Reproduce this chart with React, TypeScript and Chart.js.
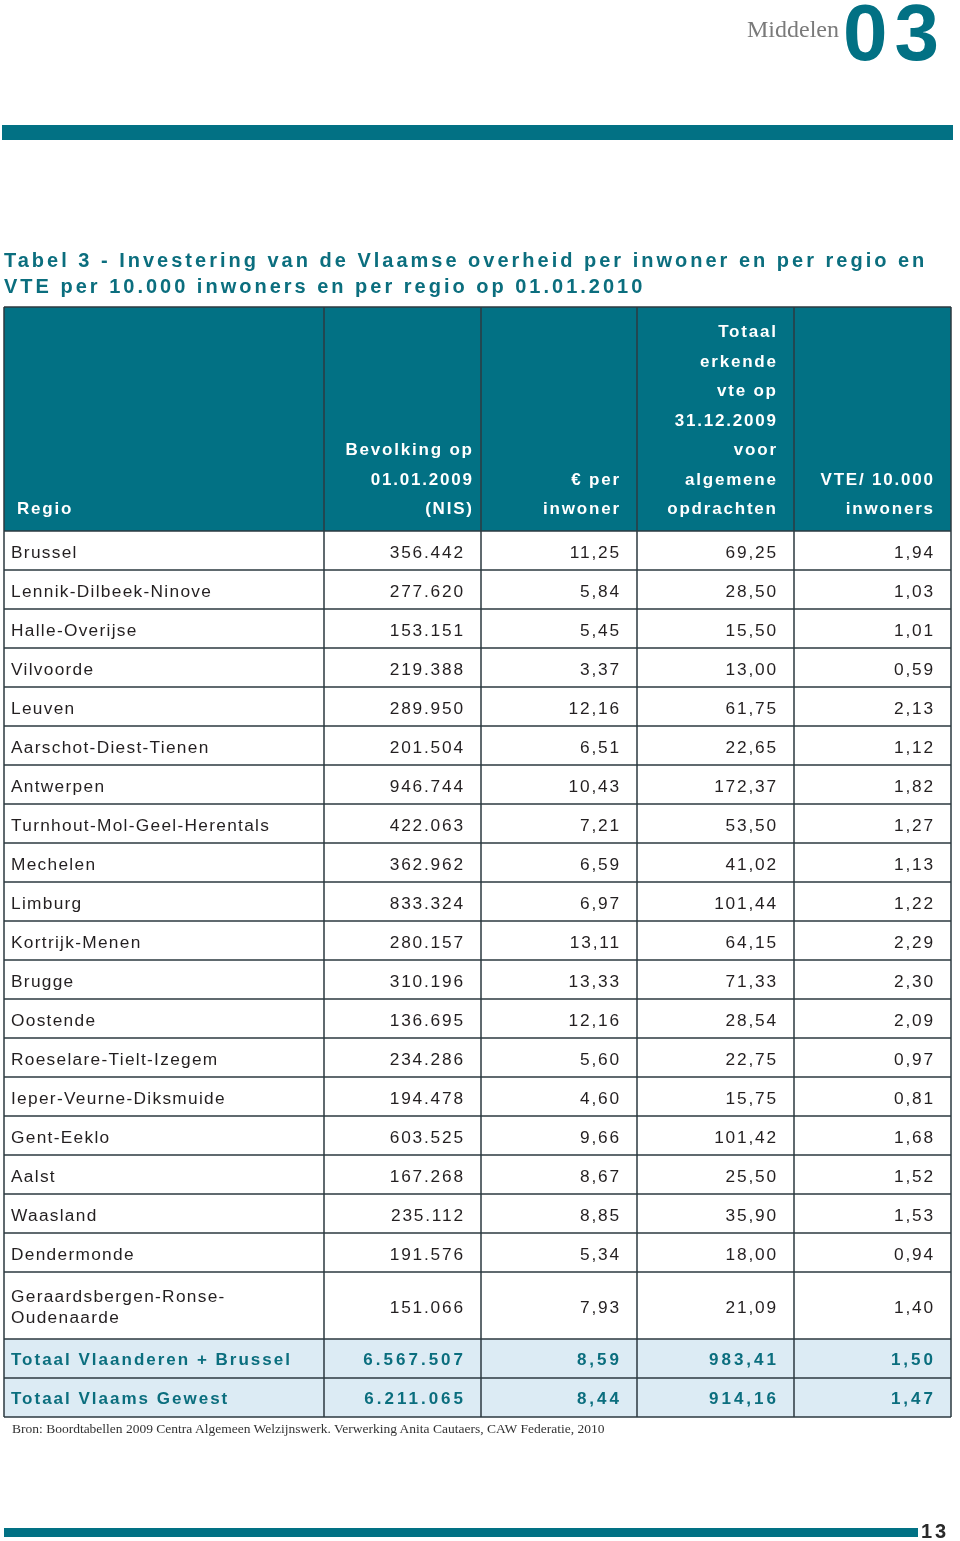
import React, { useEffect, useRef } from "react";
import { Chart, registerables } from "chart.js";

Chart.register(...registerables);

// ---------- data ----------
const regions = [
  "Brussel",
  "Lennik-Dilbeek-Ninove",
  "Halle-Overijse",
  "Vilvoorde",
  "Leuven",
  "Aarschot-Diest-Tienen",
  "Antwerpen",
  "Turnhout-Mol-Geel-Herentals",
  "Mechelen",
  "Limburg",
  "Kortrijk-Menen",
  "Brugge",
  "Oostende",
  "Roeselare-Tielt-Izegem",
  "Ieper-Veurne-Diksmuide",
  "Gent-Eeklo",
  "Aalst",
  "Waasland",
  "Dendermonde",
  "Geraardsbergen-Ronse-\nOudenaarde",
];
const population = [
  356442, 277620, 153151, 219388, 289950, 201504, 946744, 422063, 362962, 833324,
  280157, 310196, 136695, 234286, 194478, 603525, 167268, 235112, 191576, 151066,
];
const euroPerInhabitant = [
  11.25, 5.84, 5.45, 3.37, 12.16, 6.51, 10.43, 7.21, 6.59, 6.97,
  13.11, 13.33, 12.16, 5.6, 4.6, 9.66, 8.67, 8.85, 5.34, 7.93,
];
const vteTotal = [
  69.25, 28.5, 15.5, 13.0, 61.75, 22.65, 172.37, 53.5, 41.02, 101.44,
  64.15, 71.33, 28.54, 22.75, 15.75, 101.42, 25.5, 35.9, 18.0, 21.09,
];
const vtePer10000 = [
  1.94, 1.03, 1.01, 0.59, 2.13, 1.12, 1.82, 1.27, 1.13, 1.22,
  2.29, 2.3, 2.09, 0.97, 0.81, 1.68, 1.52, 1.53, 0.94, 1.4,
];
const totalLabels = ["Totaal Vlaanderen + Brussel", "Totaal Vlaams Gewest"];
const totalPopulation = [6567507, 6211065];
const totalEuro = [8.59, 8.44];
const totalVte = [983.41, 914.16];
const totalVtePer = [1.5, 1.47];
const headerLabels = [
  ["Regio"],
  ["Bevolking op", "01.01.2009", "(NIS)"],
  ["€ per", "inwoner"],
  ["Totaal", "erkende", "vte op", "31.12.2009", "voor", "algemene", "opdrachten"],
  ["VTE/ 10.000", "inwoners"],
];

// ---------- layout / style ----------
const TEAL = "#027184";
const TEXT_TEAL = "#0b6e7e";
const LIGHT = "#dcebf4";
const BORDER = "#2c3a40";
const BODY = "#231f20";
const COL_EDGES = [4, 324, 481, 637, 794, 951];
const TABLE_TOP = 307;
const HEADER_H = 224;
const ROW_H = 39;
const TALL_ROW_H = 67;
const FONT = "'Liberation Sans', Arial, sans-serif";

const fmtInt = (n: number) => String(n).replace(/\B(?=(\d{3})+(?!\d))/g, ".");
const fmtDec = (n: number) => n.toFixed(2).replace(".", ",");

const tablePlugin = {
  id: "tablePlugin",
  afterDraw(chart: any) {
    const ctx: CanvasRenderingContext2D = chart.ctx;
    const xs = chart.scales.x;
    const ys = chart.scales.y;
    const X = (v: number) => xs.getPixelForValue(v);
    const Y = (v: number) => ys.getPixelForValue(v);

    // row edges
    const edges: number[] = [TABLE_TOP, TABLE_TOP + HEADER_H];
    regions.forEach((r) => {
      const h = r.includes("\n") ? TALL_ROW_H : ROW_H;
      edges.push(edges[edges.length - 1] + h);
    });
    totalLabels.forEach(() => edges.push(edges[edges.length - 1] + ROW_H));
    const nCols = COL_EDGES.length - 1;
    const left = X(COL_EDGES[0]);
    const right = X(COL_EDGES[nCols]);

    const text = (
      s: string,
      x: number,
      y: number,
      align: CanvasTextAlign,
      font: string,
      color: string,
      ls: number
    ) => {
      ctx.font = font;
      ctx.fillStyle = color;
      (ctx as any).letterSpacing = ls + "px";
      ctx.textAlign = align;
      ctx.textBaseline = "alphabetic";
      ctx.fillText(s, align === "right" ? x + ls : x, y);
    };

    ctx.save();
    // header
    ctx.fillStyle = TEAL;
    ctx.fillRect(left, Y(edges[0]), right - left, Y(edges[1]) - Y(edges[0]));
    const hFont = "bold 17px " + FONT;
    const lineStep = 29.5;
    headerLabels.forEach((lines, c) => {
      const lastBase = edges[1] - 17;
      lines.forEach((ln, i) => {
        const base = lastBase - (lines.length - 1 - i) * lineStep;
        if (c === 0) text(ln, X(COL_EDGES[0] + 13), Y(base), "left", hFont, "#ffffff", 1.8);
        else {
          const pad = c === 1 ? 9 : 18;
          text(ln, X(COL_EDGES[c + 1] - pad), Y(base), "right", hFont, "#ffffff", 1.8);
        }
      });
    });

    // body
    const bFont = "17.3px " + FONT;
    regions.forEach((r, i) => {
      const top = edges[i + 1];
      const bot = edges[i + 2];
      const mid = (top + bot) / 2;
      const lines = r.split("\n");
      if (lines.length === 1) {
        text(r, X(COL_EDGES[0] + 7), Y(top + 27), "left", bFont, BODY, 1.3);
      } else {
        lines.forEach((ln, k) => {
          text(ln, X(COL_EDGES[0] + 7), Y(top + 30 + k * 21), "left", bFont, BODY, 1.3);
        });
      }
      const vals = [fmtInt(population[i]), fmtDec(euroPerInhabitant[i]), fmtDec(vteTotal[i]), fmtDec(vtePer10000[i])];
      vals.forEach((v, c) => {
        text(v, X(COL_EDGES[c + 2] - 18), Y(mid + 7.5), "right", bFont, BODY, 1.8);
      });
    });

    // totals
    const tFont = "bold 17px " + FONT;
    totalLabels.forEach((lab, j) => {
      const top = edges[regions.length + 1 + j];
      const bot = edges[regions.length + 2 + j];
      ctx.fillStyle = LIGHT;
      ctx.fillRect(left, Y(top), right - left, Y(bot) - Y(top));
      text(lab, X(COL_EDGES[0] + 7), Y(top + 26), "left", tFont, TEXT_TEAL, 2);
      const vals = [fmtInt(totalPopulation[j]), fmtDec(totalEuro[j]), fmtDec(totalVte[j]), fmtDec(totalVtePer[j])];
      vals.forEach((v, c) => {
        text(v, X(COL_EDGES[c + 2] - 18), Y(top + 26), "right", tFont, TEXT_TEAL, 3);
      });
    });

    // grid
    (ctx as any).letterSpacing = "0px";
    ctx.strokeStyle = BORDER;
    ctx.lineWidth = 1.5;
    ctx.beginPath();
    edges.forEach((e) => {
      ctx.moveTo(left, Y(e));
      ctx.lineTo(right, Y(e));
    });
    COL_EDGES.forEach((c) => {
      ctx.moveTo(X(c), Y(edges[0]));
      ctx.lineTo(X(c), Y(edges[edges.length - 1]));
    });
    ctx.stroke();
    ctx.restore();
  },
};

export default function App() {
  const canvasRef = useRef<HTMLCanvasElement | null>(null);

  useEffect(() => {
    if (!canvasRef.current) return;
    const chart = new Chart(canvasRef.current, {
      type: "scatter",
      data: { datasets: [{ data: [], pointRadius: 0 }] },
      options: {
        animation: false,
        responsive: false,
        devicePixelRatio: 1,
        layout: { padding: 0 },
        plugins: { legend: { display: false }, tooltip: { enabled: false }, title: { display: false } },
        scales: {
          x: { type: "linear", min: 0, max: 960, display: false },
          y: { type: "linear", min: 0, max: 1541, reverse: true, display: false },
        },
      },
      plugins: [tablePlugin],
    });
    return () => chart.destroy();
  }, []);

  const abs: React.CSSProperties = { position: "absolute", margin: 0, whiteSpace: "nowrap" };

  return (
    <div style={{ position: "absolute", left: 0, top: 0, width: 960, height: 1541, background: "#fff", overflow: "hidden" }}>
      <canvas ref={canvasRef} width={960} height={1541} style={{ position: "absolute", left: 0, top: 0 }} />
      <div style={{ ...abs, left: 747, top: 17, fontFamily: "'Liberation Serif', serif", fontSize: 24, lineHeight: "24px", color: "#7a7a7a" }}>
        Middelen
      </div>
      <div style={{ ...abs, left: 843, top: -7, fontFamily: FONT, fontWeight: "bold", fontSize: 80, lineHeight: "80px", color: TEAL, letterSpacing: 7 }}>
        03
      </div>
      <div style={{ ...abs, left: 2, top: 125, width: 951, height: 15, background: TEAL }} />
      <div style={{ ...abs, left: 4, top: 247, fontFamily: FONT, fontWeight: "bold", fontSize: 20, lineHeight: "26px", color: TEXT_TEAL, letterSpacing: 3 }}>
        Tabel 3 - Investering van de Vlaamse overheid per inwoner en per regio en
        <br />
        VTE per 10.000 inwoners en per regio op 01.01.2010
      </div>
      <div style={{ ...abs, left: 12, top: 1422, fontFamily: "'Liberation Serif', serif", fontSize: 13.5, lineHeight: "13.5px", color: "#333" }}>
        Bron: Boordtabellen 2009 Centra Algemeen Welzijnswerk. Verwerking Anita Cautaers, CAW Federatie, 2010
      </div>
      <div style={{ ...abs, left: 4, top: 1528, width: 914, height: 9, background: TEAL }} />
      <div style={{ ...abs, left: 921, top: 1521, fontFamily: FONT, fontWeight: "bold", fontSize: 20, lineHeight: "20px", color: "#2a2a2a", letterSpacing: 3 }}>
        13
      </div>
    </div>
  );
}
